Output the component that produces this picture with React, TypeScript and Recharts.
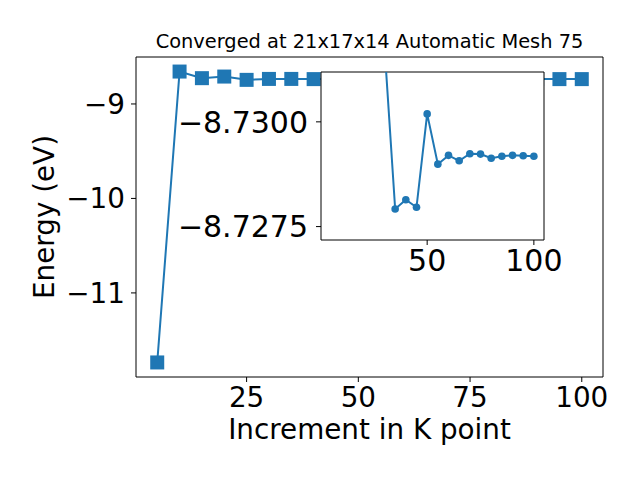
import { LineChart, Line, XAxis, YAxis, ReferenceArea } from "recharts";

// k-point increments and total energy (eV)
const kPoints = [5, 10, 15, 20, 25, 30, 35, 40, 45, 50, 55, 60, 65, 70, 75, 80, 85, 90, 95, 100];
const energy = [
  -11.736, -8.657, -8.727, -8.71, -8.745, -8.735, -8.735, -8.737, -8.737, -8.737,
  -8.737, -8.737, -8.737, -8.737, -8.737, -8.737, -8.737, -8.737, -8.737, -8.737,
];

// zoomed view (inset)
const insetK = [30, 35, 40, 45, 50, 55, 60, 65, 70, 75, 80, 85, 90, 95, 100];
const insetEnergy = [
  -8.7318, -8.72792, -8.72814, -8.72796, -8.73019, -8.72899, -8.7292, -8.72907,
  -8.72924, -8.72923, -8.72913, -8.72918, -8.7292, -8.72919, -8.72918,
];

const xTicks = [25, 50, 75, 100];
const yTicks = [-11, -10, -9];
const insetXTicks = [50, 100];
const insetYTicks = [-8.73, -8.7275];

const xDomain: [number, number] = [0.25, 104.75];
const yDomain: [number, number] = [-11.89, -8.503];
const insetYDomain: [number, number] = [-8.73119, -8.72718];

const BLUE = "#1f77b4";
const FONT = "'DejaVu Sans', sans-serif";

const minus = (s: string) => s.replace("-", "\u2212");

const mainData = kPoints.map((k, i) => ({ k, e: energy[i] }));
const insetData = insetK.map((k, i) => ({ k, e: insetEnergy[i] }));

const SquareDot = (props: any) => {
  const { cx, cy, index } = props;
  if (cx == null || cy == null) return <g key={`sq-${index}`} />;
  return <rect key={`sq-${index}`} x={cx - 7} y={cy - 7} width={14} height={14} fill={BLUE} />;
};

export default function App() {
  const tickStyle = { fontSize: 27.8, fill: "#000", fontFamily: FONT };
  const insetTick = { fontSize: 30, fill: "#000", fontFamily: FONT };
  const labelStyle = { fontSize: 27.8, fill: "#000", fontFamily: FONT };
  return (
    <div style={{ position: "absolute", left: 0, top: 0, width: 640, height: 480, background: "#fff", fontFamily: FONT }}>
      <div
        style={{
          position: "absolute",
          left: 136,
          width: 467,
          top: 32.3,
          textAlign: "center",
          fontSize: 19.4,
          lineHeight: 1,
          color: "#000",
          whiteSpace: "nowrap",
        }}
      >
        Converged at 21x17x14 Automatic Mesh 75
      </div>

      <div style={{ position: "absolute", left: 0, top: 0 }}>
        <LineChart width={640} height={480} data={mainData} margin={{ top: 57, right: 37, bottom: 0, left: 0 }}>
          <XAxis
            dataKey="k"
            type="number"
            domain={xDomain}
            ticks={xTicks}
            allowDataOverflow
            height={103}
            axisLine={false}
            tickLine={{ stroke: "#000" }}
            tickSize={5}
            tickMargin={5}
            tick={tickStyle}
            label={{ value: "Increment in K point", position: "insideBottom", offset: 41, style: labelStyle }}
          />
          <YAxis
            type="number"
            domain={yDomain}
            ticks={yTicks}
            allowDataOverflow
            width={136}
            axisLine={false}
            tickLine={{ stroke: "#000" }}
            tickSize={5}
            tickMargin={6}
            tick={tickStyle}
            tickFormatter={(v: number) => minus(String(v))}
            label={{ value: "Energy (eV)", angle: -90, position: "insideLeft", offset: 44, style: { ...labelStyle, textAnchor: "middle" } }}
          />
          <ReferenceArea x1={xDomain[0]} x2={xDomain[1]} y1={yDomain[0]} y2={yDomain[1]} fill="none" stroke="#000" strokeWidth={1} fillOpacity={0} />
          <Line dataKey="e" stroke={BLUE} strokeWidth={2} dot={SquareDot} isAnimationActive={false} />
        </LineChart>
      </div>

      <div style={{ position: "absolute", left: 0, top: 0 }}>
        <LineChart width={640} height={480} data={insetData} margin={{ top: 72, right: 96, bottom: 0, left: 0 }}>
          <XAxis
            dataKey="k"
            type="number"
            domain={xDomain}
            ticks={insetXTicks}
            allowDataOverflow
            height={240}
            axisLine={false}
            tickLine={{ stroke: "#000" }}
            tickSize={5}
            tickMargin={5}
            tick={insetTick}
          />
          <YAxis
            type="number"
            domain={insetYDomain}
            ticks={insetYTicks}
            reversed
            allowDataOverflow
            width={321}
            axisLine={false}
            tickLine={{ stroke: "#000" }}
            tickSize={5}
            tickMargin={8}
            tick={insetTick}
            tickFormatter={(v: number) => minus(v.toFixed(4))}
          />
          <ReferenceArea x1={xDomain[0]} x2={xDomain[1]} y1={insetYDomain[0]} y2={insetYDomain[1]} fill="#fff" fillOpacity={1} stroke="#000" strokeWidth={1} />
          <Line dataKey="e" stroke={BLUE} strokeWidth={2} dot={{ r: 3.8, fill: BLUE, stroke: BLUE, strokeWidth: 0 }} isAnimationActive={false} />
        </LineChart>
      </div>
    </div>
  );
}
